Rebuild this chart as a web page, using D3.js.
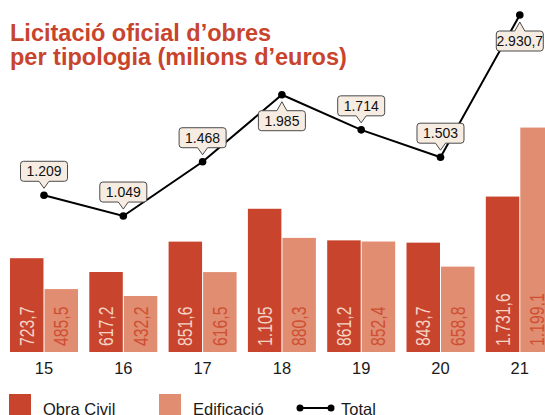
<!DOCTYPE html>
<html>
<head>
<meta charset="utf-8">
<script src="https://cdn.jsdelivr.net/npm/d3@7"></script>
<style>
  body { margin: 0; background: #fff; }
  svg { display: block; font-family: "Liberation Sans", Arial, Helvetica, sans-serif; }
</style>
</head>
<body>
<div id="chart"></div>
<script>
(function(){
  'use strict';

  // years (20xx)
  var years = ['15', '16', '17', '18', '19', '20', '21'];

  // bar heights as drawn (in the original the 2021 bars are drawn swapped vs their labels)
  var obraCivil = [723.7, 617.2, 851.6, 1105, 861.2, 843.7, 1199.1];
  var edificacio = [485.5, 432.2, 616.5, 880.3, 852.4, 658.8, 1731.6];
  var obraCivilLabels = ['723,7', '617,2', '851,6', '1.105', '861,2', '843,7', '1.731,6'];
  var edificacioLabels = ['485,5', '432,2', '616,5', '880,3', '852,4', '658,8', '1.199,1'];

  var total = [1209, 1049, 1468, 1985, 1714, 1503, 2930.7];
  var totalLabels = ['1.209', '1.049', '1.468', '1.985', '1.714', '1.503', '2.930,7'];

  var seriesNames = ['Obra Civil', 'Edificació', 'Total'];

  var w = 545,
      h = 415,
      dark = '#c8442c',
      light = '#e08d72',
      svg = d3.select('#chart').append('svg')
        .attr('width', w)
        .attr('height', h);

  var x0 = d3.scaleBand()
      .domain(years)
      .range([4.35, 559.45])
      .paddingInner(0.1425)
      .paddingOuter(0.0713),

      x1 = d3.scaleBand()
      .domain(['obra', 'edif'])
      .range([0, x0.bandwidth()])
      .paddingInner(0.03),

      y = d3.scaleLinear()
      .domain([0, 2600])
      .range([352, 15])
      .clamp(true);

  // title
  var title = svg.append('text')
    .attr('x', 10)
    .style('font-weight', 'bold')
    .style('font-size', '23.5px')
    .style('fill', dark);
  title.append('tspan').attr('x', 10).attr('y', 41).text('Licitació oficial d’obres');
  title.append('tspan').attr('x', 10).attr('y', 65).text('per tipologia (milions d’euros)');

  var rows = years.map(function(yr, i) {
    return {year: yr, vals: [
      {key: 'obra', v: obraCivil[i], label: obraCivilLabels[i], fill: dark, tc: '#f4d3c4'},
      {key: 'edif', v: edificacio[i], label: edificacioLabels[i], fill: light, tc: '#cf4f33'}
    ]};
  });

  var groups = svg.selectAll('.grp')
    .data(rows)
    .enter()
    .append('g')
    .attr('class', 'grp')
    .attr('transform', function(d) { return 'translate(' + x0(d.year) + ',0)'; });

  groups.selectAll('rect')
    .data(function(d) { return d.vals; })
    .enter()
    .append('rect')
    .attr('x', function(d) { return x1(d.key); })
    .attr('y', function(d) { return y(d.v); })
    .attr('width', x1.bandwidth())
    .attr('height', function(d) { return y(0) - y(d.v); })
    .style('fill', function(d) { return d.fill; });

  groups.selectAll('.blab')
    .data(function(d) { return d.vals; })
    .enter()
    .append('text')
    .attr('class', 'blab')
    .attr('transform', function(d) {
      var cx = x1(d.key) + x1.bandwidth() / 2;
      return 'translate(' + (cx + 7) + ',' + (y(0) - 6) + ') rotate(-90) scale(1,1.26)';
    })
    .style('font-size', '15.8px')
    .style('fill', function(d) { return d.tc; })
    .text(function(d) { return d.label; });

  // x axis
  var xAxis = d3.axisBottom(x0).tickSize(0).tickPadding(10);
  var gx = svg.append('g')
    .attr('transform', 'translate(0,' + y(0) + ')')
    .call(xAxis);
  gx.select('.domain').remove();
  gx.selectAll('text')
    .style('font-family', '"Liberation Sans", Arial, sans-serif')
    .style('font-size', '16.5px')
    .style('fill', '#1a1a1a');

  // total line
  var cx = function(i) { return x0(years[i]) + x0.bandwidth() / 2; };
  var line = d3.line()
    .x(function(d, i) { return cx(i); })
    .y(function(d) { return y(d); });

  svg.append('path')
    .datum(total)
    .attr('d', line)
    .style('fill', 'none')
    .style('stroke', '#000')
    .style('stroke-width', 2);

  svg.selectAll('.pt')
    .data(total)
    .enter()
    .append('circle')
    .attr('class', 'pt')
    .attr('cx', function(d, i) { return cx(i); })
    .attr('cy', function(d) { return y(d); })
    .attr('r', 3.8)
    .style('fill', '#000');

  // callouts: below the point at local peaks, above otherwise
  function isPeak(i) {
    return i > 0 && total[i] > total[i - 1] && (i === total.length - 1 || total[i] > total[i + 1]);
  }

  function calloutPath(s, gap) {
    var bw = 47, bh = 20, r = 3, tip = 7, hw = 5,
        near = s * gap, far = s * (gap + bh);
    return 'M' + (-bw / 2 + r) + ',' + far +
      'H' + (bw / 2 - r) +
      'Q' + (bw / 2) + ',' + far + ' ' + (bw / 2) + ',' + (far - s * r) +
      'V' + (near + s * r) +
      'Q' + (bw / 2) + ',' + near + ' ' + (bw / 2 - r) + ',' + near +
      'H' + hw + 'L0,' + (s * tip) + 'L' + (-hw) + ',' + near +
      'H' + (-bw / 2 + r) +
      'Q' + (-bw / 2) + ',' + near + ' ' + (-bw / 2) + ',' + (near + s * r) +
      'V' + (far - s * r) +
      'Q' + (-bw / 2) + ',' + far + ' ' + (-bw / 2 + r) + ',' + far + 'Z';
  }

  var callouts = svg.selectAll('.callout')
    .data(total)
    .enter()
    .append('g')
    .attr('class', 'callout')
    .attr('transform', function(d, i) { return 'translate(' + cx(i) + ',' + y(d) + ')'; });

  callouts.append('path')
    .attr('d', function(d, i) { return isPeak(i) ? calloutPath(-1, 16) : calloutPath(1, 14); })
    .attr('transform', 'scale(1,-1)')
    .style('fill', '#f6ece2')
    .style('stroke', '#4a4a4a')
    .style('stroke-width', 1);

  callouts.append('text')
    .attr('x', 0)
    .attr('y', function(d, i) { return isPeak(i) ? 26 : -24; })
    .attr('dy', '0.36em')
    .attr('text-anchor', 'middle')
    .style('font-size', '14px')
    .style('fill', '#111')
    .text(function(d, i) { return totalLabels[i]; });

  // legend
  var lg = svg.append('g');
  lg.append('rect').attr('x', 9).attr('y', 394).attr('width', 22).attr('height', 22).style('fill', dark);
  lg.append('text').attr('x', 43).attr('y', 415).text(seriesNames[0]);
  lg.append('rect').attr('x', 159).attr('y', 394).attr('width', 22).attr('height', 22).style('fill', light);
  lg.append('text').attr('x', 193).attr('y', 415).text(seriesNames[1]);
  lg.append('line').attr('x1', 300).attr('x2', 331).attr('y1', 408).attr('y2', 408)
    .style('stroke', '#000').style('stroke-width', 2);
  lg.selectAll('.lgpt').data([300, 331]).enter().append('circle')
    .attr('cx', function(d) { return d; }).attr('cy', 408).attr('r', 3.5).style('fill', '#000');
  lg.append('text').attr('x', 341).attr('y', 415).text(seriesNames[2]);
  lg.selectAll('text').style('font-size', '16.5px').style('fill', '#1a1a1a');

}());
</script>
</body>
</html>
